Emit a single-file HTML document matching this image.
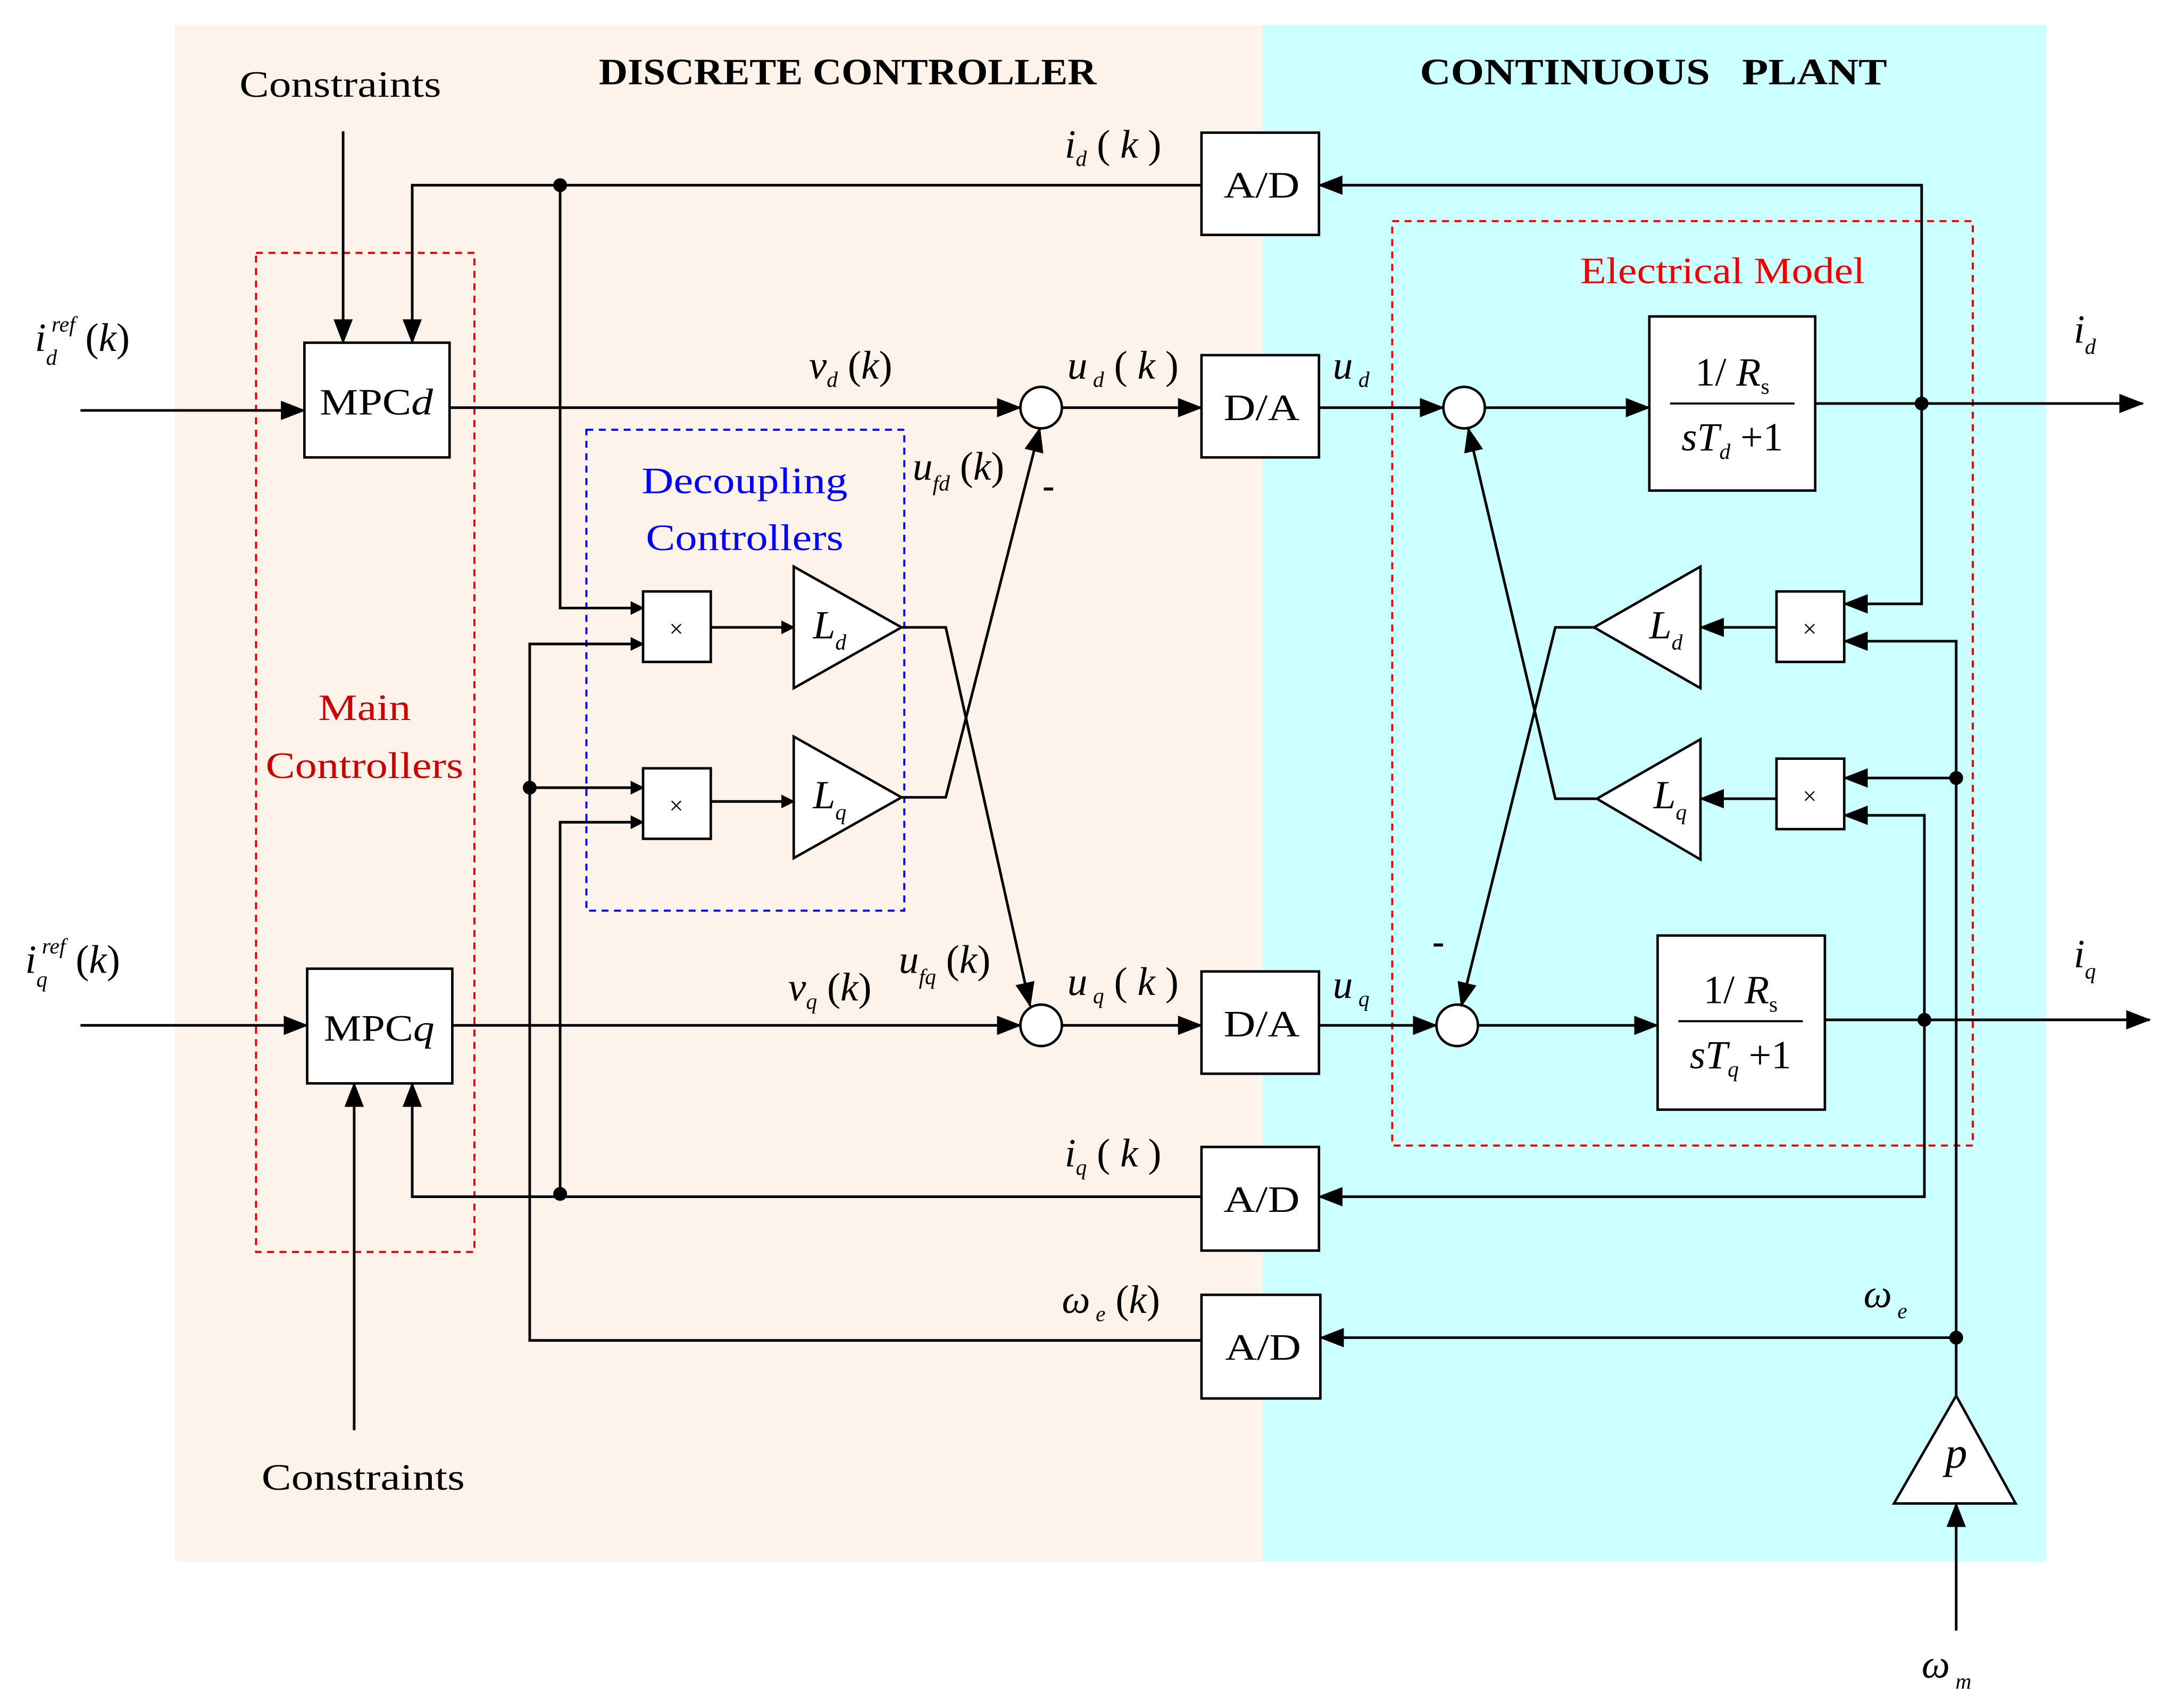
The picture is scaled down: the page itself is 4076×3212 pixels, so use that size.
<!DOCTYPE html>
<html><head><meta charset="utf-8"><style>html,body{margin:0;padding:0;background:#fff}svg{display:block}</style></head>
<body>
<svg width="4076" height="3212" viewBox="0 0 1568 1236" xmlns="http://www.w3.org/2000/svg" font-family="'Liberation Serif', serif">
<defs>
<marker id="a" markerWidth="10" markerHeight="10" refX="9" refY="5" orient="auto" markerUnits="userSpaceOnUse" viewBox="0 0 10 10"><path d="M0,0 L10,5 L0,10 z" fill="#000"/></marker>
<marker id="b" markerWidth="18" markerHeight="14" refX="17" refY="7" orient="auto" markerUnits="userSpaceOnUse" viewBox="0 0 18 14"><path d="M0,0 L18,7 L0,14 z" fill="#000"/></marker>
</defs>
<rect x="126" y="18" width="787" height="1112" fill="#fdf3ea"/>
<rect x="913" y="18" width="567" height="1112" fill="#ccffff"/>
<text x="433" y="61" font-size="27" font-weight="bold" textLength="360" lengthAdjust="spacingAndGlyphs">DISCRETE CONTROLLER</text>
<text x="1027" y="61" font-size="27" font-weight="bold" textLength="338" lengthAdjust="spacingAndGlyphs" xml:space="preserve">CONTINUOUS   PLANT</text>
<text x="173" y="70" font-size="27" textLength="146" lengthAdjust="spacingAndGlyphs">Constraints</text>
<text x="189" y="1078" font-size="27" textLength="147" lengthAdjust="spacingAndGlyphs">Constraints</text>

<g fill="none" stroke-dasharray="5,4" stroke-width="1.5">
<rect x="185" y="183" width="158" height="723" stroke="#d00"/>
<rect x="1007" y="160" width="420" height="669" stroke="#e00"/>
<rect x="424" y="311" width="230" height="348" stroke="#00f"/>
</g>
<g font-size="27">
<text x="230" y="521" fill="#c00" textLength="67" lengthAdjust="spacingAndGlyphs">Main</text>
<text x="192" y="563" fill="#c00" textLength="143" lengthAdjust="spacingAndGlyphs">Controllers</text>
<text x="1143" y="205" fill="#e00" textLength="206" lengthAdjust="spacingAndGlyphs">Electrical Model</text>
<text x="464" y="357" fill="#00f" textLength="149" lengthAdjust="spacingAndGlyphs">Decoupling</text>
<text x="467" y="398" fill="#00f" textLength="143" lengthAdjust="spacingAndGlyphs">Controllers</text>
</g>

<g fill="#fff" stroke="#000" stroke-width="1.8">
<rect x="220" y="248" width="105" height="83"/>
<rect x="222" y="701" width="105" height="83"/>
<rect x="869" y="96" width="85" height="74"/>
<rect x="869" y="257" width="85" height="74"/>
<rect x="869" y="703" width="85" height="74"/>
<rect x="869" y="830" width="85" height="75"/>
<rect x="869" y="937" width="86" height="75"/>
<rect x="1193" y="229" width="120" height="126"/>
<rect x="1199" y="677" width="121" height="126"/>
<rect x="465" y="428" width="49" height="51"/>
<rect x="465" y="556" width="49" height="51"/>
<rect x="1285" y="428" width="49" height="51"/>
<rect x="1285" y="549" width="49" height="51"/>
<circle cx="753" cy="295" r="15"/>
<circle cx="753" cy="742" r="15"/>
<circle cx="1059" cy="295" r="15"/>
<circle cx="1054" cy="742" r="15"/>
<polygon points="574,410 652,454 574,498"/>
<polygon points="574,533 652,577 574,621"/>
<polygon points="1230,410 1153,454 1230,498"/>
<polygon points="1230,535 1155,578 1230,622"/>
<polygon points="1415,1010 1458,1088 1370,1088"/>
</g>

<g font-size="27">
<text x="231" y="300" textLength="82" lengthAdjust="spacingAndGlyphs">MPC<tspan font-style="italic">d</tspan></text>
<text x="234" y="753" textLength="80" lengthAdjust="spacingAndGlyphs">MPC<tspan font-style="italic">q</tspan></text>
<text x="885" y="143" textLength="55" lengthAdjust="spacingAndGlyphs">A/D</text>
<text x="885" y="304" textLength="55" lengthAdjust="spacingAndGlyphs">D/A</text>
<text x="885" y="750" textLength="55" lengthAdjust="spacingAndGlyphs">D/A</text>
<text x="885" y="877" textLength="55" lengthAdjust="spacingAndGlyphs">A/D</text>
<text x="886" y="984" textLength="55" lengthAdjust="spacingAndGlyphs">A/D</text>
</g>
<g font-size="27" text-anchor="middle">
<text x="489" y="461" font-size="18">×</text>
<text x="489" y="589" font-size="18">×</text>
<text x="1309" y="461" font-size="18">×</text>
<text x="1309" y="582" font-size="18">×</text>
<text x="600" y="462" font-style="italic" font-size="29">L<tspan font-size="16" dy="8">d</tspan></text>
<text x="600" y="585" font-style="italic" font-size="29">L<tspan font-size="16" dy="8">q</tspan></text>
<text x="1205" y="462" font-style="italic" font-size="29">L<tspan font-size="16" dy="8">d</tspan></text>
<text x="1208" y="585" font-style="italic" font-size="29">L<tspan font-size="16" dy="8">q</tspan></text>
<text x="1415" y="1062" font-style="italic" font-size="32">p</text>
<text x="1253" y="279" font-size="29">1/ <tspan font-style="italic">R</tspan><tspan font-size="16" dy="6">s</tspan></text>
<line x1="1208" y1="292" x2="1298" y2="292" stroke="#000" stroke-width="1.5"/>
<text x="1253" y="326" font-size="29"><tspan font-style="italic">sT</tspan><tspan font-size="16" dy="6" font-style="italic">d</tspan><tspan dy="-6"> +1</tspan></text>
<text x="1259" y="726" font-size="29">1/ <tspan font-style="italic">R</tspan><tspan font-size="16" dy="6">s</tspan></text>
<line x1="1214" y1="739" x2="1304" y2="739" stroke="#000" stroke-width="1.5"/>
<text x="1259" y="773" font-size="29"><tspan font-style="italic">sT</tspan><tspan font-size="16" dy="6" font-style="italic">q</tspan><tspan dy="-6"> +1</tspan></text>
</g>

<g font-size="29" font-style="italic">
<text x="25" y="254">i<tspan font-size="16" dy="10" dx="0">d</tspan><tspan font-size="16" dy="-24" dx="-4">ref</tspan><tspan dy="14" font-style="normal"> (</tspan>k<tspan font-style="normal">)</tspan></text>
<text x="18" y="704">i<tspan font-size="16" dy="10" dx="0">q</tspan><tspan font-size="16" dy="-24" dx="-4">ref</tspan><tspan dy="14" font-style="normal"> (</tspan>k<tspan font-style="normal">)</tspan></text>
<text x="770" y="114">i<tspan font-size="16" dy="6">d</tspan><tspan dy="-6" font-style="normal"> (</tspan> k <tspan font-style="normal">)</tspan></text>
<text x="770" y="844">i<tspan font-size="16" dy="6">q</tspan><tspan dy="-6" font-style="normal"> (</tspan> k <tspan font-style="normal">)</tspan></text>
<text x="768" y="950">ω<tspan font-size="16" dy="6"> e</tspan><tspan dy="-6" font-style="normal"> (</tspan>k<tspan font-style="normal">)</tspan></text>
<text x="585" y="274">v<tspan font-size="16" dy="6">d</tspan><tspan dy="-6" font-style="normal"> (</tspan>k<tspan font-style="normal">)</tspan></text>
<text x="570" y="724">v<tspan font-size="16" dy="6">q</tspan><tspan dy="-6" font-style="normal"> (</tspan>k<tspan font-style="normal">)</tspan></text>
<text x="772" y="274">u<tspan font-size="16" dy="6"> d</tspan><tspan dy="-6" font-style="normal"> (</tspan> k <tspan font-style="normal">)</tspan></text>
<text x="772" y="720">u<tspan font-size="16" dy="6"> q</tspan><tspan dy="-6" font-style="normal"> (</tspan> k <tspan font-style="normal">)</tspan></text>
<text x="660" y="347">u<tspan font-size="16" dy="8">fd</tspan><tspan dy="-8" font-style="normal"> (</tspan>k<tspan font-style="normal">)</tspan></text>
<text x="650" y="704">u<tspan font-size="16" dy="8">fq</tspan><tspan dy="-8" font-style="normal"> (</tspan>k<tspan font-style="normal">)</tspan></text>
<text x="964" y="274">u<tspan font-size="16" dy="6"> d</tspan></text>
<text x="964" y="722">u<tspan font-size="16" dy="6"> q</tspan></text>
<text x="1500" y="248">i<tspan font-size="16" dy="8">d</tspan></text>
<text x="1500" y="700">i<tspan font-size="16" dy="8">q</tspan></text>
<text x="1348" y="946">ω<tspan font-size="16" dy="8"> e</tspan></text>
<text x="1390" y="1214">ω<tspan font-size="16" dy="8"> m</tspan></text>
</g>
<text x="754" y="360" font-size="26" font-weight="bold">-</text>
<text x="1036" y="690" font-size="26" font-weight="bold">-</text>

<g fill="none" stroke="#000" stroke-width="1.9">
<line x1="58" y1="297" x2="220" y2="297" marker-end="url(#b)"/>
<line x1="58" y1="742" x2="222" y2="742" marker-end="url(#b)"/>
<line x1="248" y1="95" x2="248" y2="248" marker-end="url(#b)"/>
<line x1="256" y1="1035" x2="256" y2="784" marker-end="url(#b)"/>
<polyline points="869,134 298,134 298,248" marker-end="url(#b)"/>
<polyline points="405,134 405,440 465,440" marker-end="url(#a)"/>
<polyline points="869,866 298,866 298,784" marker-end="url(#b)"/>
<polyline points="405,864 405,595 465,595" marker-end="url(#a)"/>
<polyline points="869,970 383,970 383,466 465,466" marker-end="url(#a)"/>
<line x1="383" y1="570" x2="465" y2="570" marker-end="url(#a)"/>
<line x1="514" y1="454" x2="574" y2="454" marker-end="url(#a)"/>
<line x1="514" y1="580" x2="574" y2="580" marker-end="url(#a)"/>
<polyline points="652,454 684,454 745,728" marker-end="url(#b)"/>
<polyline points="652,577 684,577 752,310" marker-end="url(#b)"/>
<line x1="325" y1="295" x2="738" y2="295" marker-end="url(#b)"/>
<line x1="327" y1="742" x2="738" y2="742" marker-end="url(#b)"/>
<line x1="768" y1="295" x2="869" y2="295" marker-end="url(#b)"/>
<line x1="768" y1="742" x2="869" y2="742" marker-end="url(#b)"/>
<line x1="954" y1="295" x2="1044" y2="295" marker-end="url(#b)"/>
<line x1="954" y1="742" x2="1039" y2="742" marker-end="url(#b)"/>
<line x1="1074" y1="295" x2="1193" y2="295" marker-end="url(#b)"/>
<line x1="1069" y1="742" x2="1199" y2="742" marker-end="url(#b)"/>
<line x1="1313" y1="292" x2="1550" y2="292" marker-end="url(#b)"/>
<line x1="1320" y1="738" x2="1555" y2="738" marker-end="url(#b)"/>
<polyline points="1390,292 1390,134 954,134" marker-end="url(#b)"/>
<polyline points="1390,292 1390,437 1334,437" marker-end="url(#b)"/>
<polyline points="1392,738 1392,866 954,866" marker-end="url(#b)"/>
<polyline points="1392,738 1392,590 1334,590" marker-end="url(#b)"/>
<line x1="1415" y1="968" x2="955" y2="968" marker-end="url(#b)"/>
<polyline points="1415,1010 1415,464 1334,464" marker-end="url(#b)"/>
<line x1="1415" y1="563" x2="1334" y2="563" marker-end="url(#b)"/>
<line x1="1415" y1="1180" x2="1415" y2="1088" marker-end="url(#b)"/>
<line x1="1285" y1="454" x2="1230" y2="454" marker-end="url(#b)"/>
<line x1="1285" y1="578" x2="1230" y2="578" marker-end="url(#b)"/>
<polyline points="1153,454 1125,454 1057,728" marker-end="url(#b)"/>
<polyline points="1155,578 1125,578 1062,310" marker-end="url(#b)"/>
</g>
<g fill="#000">
<circle cx="405" cy="134" r="5"/><circle cx="405" cy="864" r="5"/><circle cx="383" cy="570" r="5"/>
<circle cx="1390" cy="292" r="5"/><circle cx="1392" cy="738" r="5"/>
<circle cx="1415" cy="968" r="5"/><circle cx="1415" cy="563" r="5"/>
</g>
</svg>
</body></html>
